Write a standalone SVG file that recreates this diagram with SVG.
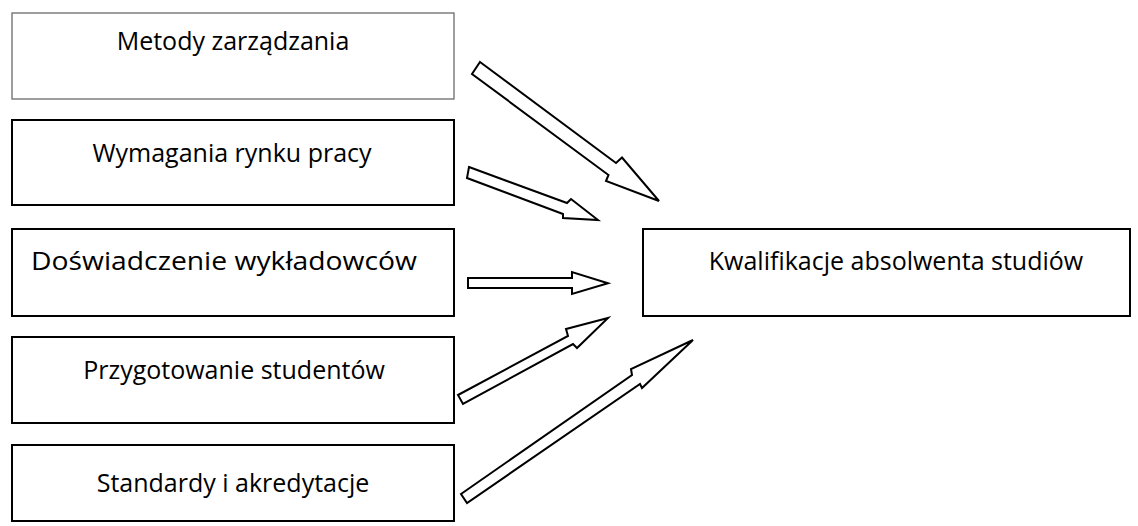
<svg xmlns="http://www.w3.org/2000/svg" width="1138" height="526" viewBox="0 0 1138 526">
<style>
.box{fill:#fff;stroke:#000;stroke-width:2}
.box1{fill:#fff;stroke:#6b6b6b;stroke-width:1.3}
.lbl{font-family:"Open Sans","Liberation Sans",sans-serif;font-size:25px;fill:#000;text-anchor:middle}
.arr{fill:#fff;stroke:#000;stroke-width:2;stroke-linejoin:miter}
</style>
<rect width="1138" height="526" fill="#fff"/>
<g id="node-metody"><rect class="box1" x="12" y="13" width="442" height="86"/><text class="lbl" x="233" y="50">Metody zarządzania</text></g>
<g id="node-wymagania"><rect class="box" x="12" y="120" width="442" height="85"/><text class="lbl" x="232" y="162">Wymagania rynku pracy</text></g>
<g id="node-doswiadczenie"><rect class="box" x="12" y="229" width="442" height="87"/><text class="lbl" x="224" y="270" textLength="386" lengthAdjust="spacingAndGlyphs">Doświadczenie wykładowców</text></g>
<g id="node-przygotowanie"><rect class="box" x="12" y="337" width="442" height="86"/><text class="lbl" x="234" y="379">Przygotowanie studentów</text></g>
<g id="node-standardy"><rect class="box" x="12" y="445" width="442" height="76"/><text class="lbl" x="233" y="492">Standardy i akredytacje</text></g>
<g id="node-kwalifikacje"><rect class="box" x="643" y="229" width="487" height="87"/><text class="lbl" x="896" y="270">Kwalifikacje absolwenta studiów</text></g>
<g id="connectors">
<polygon class="arr" points="480,62 616,163 622,157.5 659,201 606,181 608.5,175 472,74"/>
<polygon class="arr" points="469,167 567,203 571,199 598,220 563,218 563,214 467,178"/>
<polygon class="arr" points="468,278 572,278 572,272 608,283.3 572,294 572,288 468,288"/>
<polygon class="arr" points="458,395 568,336 566,329 608,318 577,348 573,344 463,404"/>
<polygon class="arr" points="461,494 632,375 631,369 693,340 642,388 640,384 467,503"/>
</g>
</svg>
